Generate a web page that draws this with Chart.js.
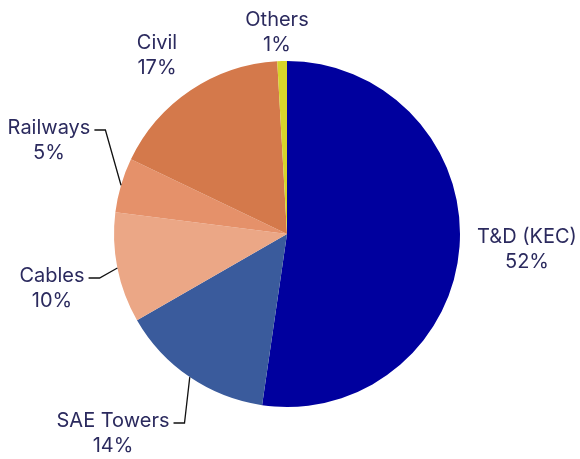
<!DOCTYPE html>
<html>
<head>
<meta charset="utf-8">
<script src="https://cdn.jsdelivr.net/npm/chart.js@4.4.0/dist/chart.umd.min.js"></script>
<style>
html,body{margin:0;padding:0;background:#fff;}
#wrap{width:580px;height:459px;position:relative;}
</style>
</head>
<body>
<div id="wrap"><canvas id="c" width="580" height="459"></canvas></div>
<script>
const categories = ["T&D (KEC)", "SAE Towers", "Cables", "Railways", "Civil", "Others"];
const values = [52.3, 14.4, 10.3, 5.1, 17.0, 0.9];
const shownPct = [52, 14, 10, 5, 17, 1];
const colors = ["#00009E", "#3A5B9C", "#EBA786", "#E5916A", "#D4794B", "#D7D42A"];

// label block centers, as offsets from the pie centre (layout only)
const labelOffsets = [[240, 15], [-174, 199], [-235, 54], [-238, -94], [-130, -179], [-10, -202]];
const leaderOn = [false, true, true, true, false, false];

const FONT = '20px Inter';
const TXT = '#2B2A5E';

const labelPlugin = {
  id: 'labels',
  afterDraw(chart) {
    const ctx = chart.ctx;
    const meta = chart.getDatasetMeta(0);
    ctx.save();
    ctx.font = FONT;
    ctx.fillStyle = TXT;
    ctx.textAlign = 'center';
    ctx.textBaseline = 'middle';
    meta.data.forEach((arc, i) => {
      const cx = arc.x, cy = arc.y;
      const lx = cx + labelOffsets[i][0];
      const ly = cy + labelOffsets[i][1];
      const l1 = categories[i], l2 = shownPct[i] + '%';
      ctx.fillText(l1, lx, ly - 12.5);
      ctx.fillText(l2, lx, ly + 12.5);
      if (leaderOn[i]) {
        const w = ctx.measureText(l1).width;
        const sx = lx + w / 2 + 4;
        const sy = ly - 10;
        const mid = (arc.startAngle + arc.endAngle) / 2;
        const px = cx + Math.cos(mid) * arc.outerRadius;
        const py = cy + Math.sin(mid) * arc.outerRadius;
        ctx.beginPath();
        ctx.strokeStyle = '#111';
        ctx.lineWidth = 1.3;
        ctx.moveTo(sx, sy);
        ctx.lineTo(sx + 11, sy);
        ctx.lineTo(px, py);
        ctx.stroke();
      }
    });
    ctx.restore();
  }
};

new Chart(document.getElementById('c'), {
  type: 'pie',
  data: {
    labels: categories,
    datasets: [{ data: values, backgroundColor: colors, borderWidth: 0, hoverOffset: 0 }]
  },
  options: {
    responsive: false,
    animation: false,
    layout: { padding: { left: 114, right: 120, top: 61, bottom: 52 } },
    plugins: { legend: { display: false }, tooltip: { enabled: false } }
  },
  plugins: [labelPlugin]
});
</script>
</body>
</html>
